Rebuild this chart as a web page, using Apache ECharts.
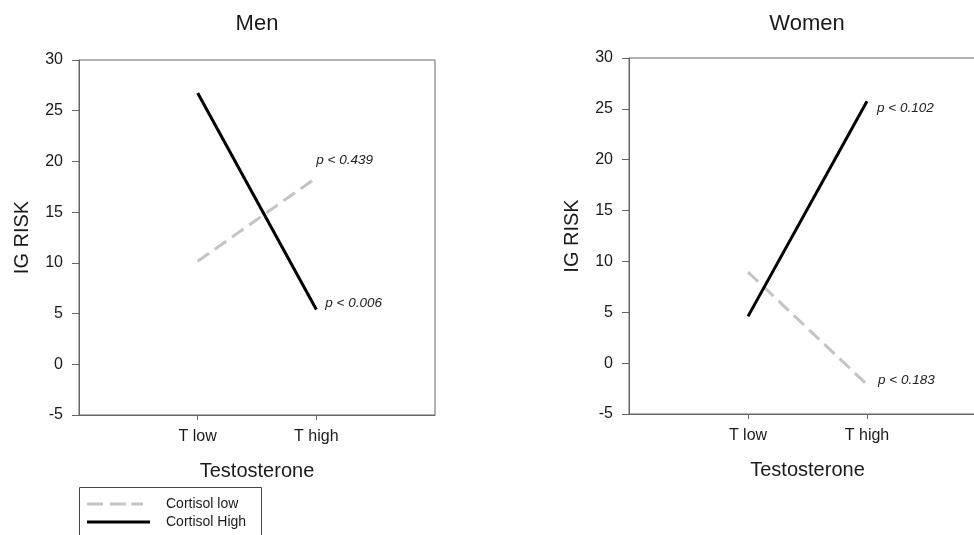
<!DOCTYPE html>
<html>
<head>
<meta charset="utf-8">
<script src="https://cdn.jsdelivr.net/npm/echarts@6/dist/echarts.min.js"></script>
<style>
html,body{margin:0;padding:0;background:#fff;}
#chart{width:974px;height:535px;}
</style>
</head>
<body>
<div id="chart"></div>
<script>
// ---- data ----
var panelTitles = ['Men', 'Women'];
var xCategories = ['', 'T low', 'T high', ''];
var seriesNames = ['Cortisol low', 'Cortisol High'];
var menCortisolLow = [['T low', 10.15], ['T high', 18.4]];
var menCortisolHigh = [['T low', 26.75], ['T high', 5.4]];
var womenCortisolLow = [['T low', 8.95], ['T high', -2.1]];
var womenCortisolHigh = [['T low', 4.6], ['T high', 25.75]];
var pLabels = { menLow: 'p < 0.439', menHigh: 'p < 0.006', womenLow: 'p < 0.183', womenHigh: 'p < 0.102' };
var yMin = -5, yMax = 30, yStep = 5;
var xAxisTitle = 'Testosterone';
var yAxisTitle = 'IG RISK';

// ---- chart ----
var FONT = 'Liberation Sans, Arial, Helvetica, sans-serif';
var AXIS_COLOR = '#666';
var TEXT_COLOR = '#1a1a1a';
var GRAY = '#c4c4c4';

var grids = [
  { left: 79, top: 60, width: 356, height: 355 },
  { left: 629, top: 58, width: 357, height: 356 }
];

function xAxisFor(i) {
  return {
    type: 'category', gridIndex: i, data: xCategories, boundaryGap: false,
    name: xAxisTitle, nameLocation: 'middle', nameGap: 46,
    nameTextStyle: { fontFamily: FONT, fontSize: 20, color: TEXT_COLOR },
    axisLine: { onZero: false, lineStyle: { color: AXIS_COLOR, width: 1 } },
    axisTick: { show: true, length: 5, alignWithLabel: true,
      interval: function (idx) { return idx === 1 || idx === 2; },
      lineStyle: { color: AXIS_COLOR } },
    axisLabel: { margin: 14, fontFamily: FONT, fontSize: 16, color: TEXT_COLOR,
      interval: function (idx) { return idx === 1 || idx === 2; } },
    splitLine: { show: false }
  };
}
function yAxisFor(i) {
  return {
    type: 'value', gridIndex: i, min: yMin, max: yMax, interval: yStep,
    name: yAxisTitle, nameLocation: 'middle', nameGap: 47,
    nameTextStyle: { fontFamily: FONT, fontSize: 20, color: TEXT_COLOR },
    axisLine: { show: true, onZero: false, lineStyle: { color: AXIS_COLOR, width: 1 } },
    axisTick: { show: true, length: 7, lineStyle: { color: AXIS_COLOR } },
    axisLabel: { margin: 16, fontFamily: FONT, fontSize: 16, color: TEXT_COLOR },
    splitLine: { show: false }
  };
}
function lineSeries(name, idx, data, dashed, label, off) {
  return {
    type: 'line', name: name, xAxisIndex: idx, yAxisIndex: idx, data: data,
    symbol: 'none', silent: true, animation: false,
    lineStyle: dashed ? { color: GRAY, width: 3, type: [14, 7] } : { color: '#000', width: 3 },
    itemStyle: { color: dashed ? GRAY : '#000' },
    endLabel: { show: true, formatter: function () { return label; }, offset: off,
      fontFamily: FONT, fontSize: 13.5, fontStyle: 'italic', color: '#222' }
  };
}

var DASH_ICON = 'path://M0,0h16v3h-16z M22.7,0h16v3h-16z M44.4,0h11.6v3h-11.6z M63,0h0.01v3h-0.01z';
var SOLID_ICON = 'path://M0,0h63v3h-63z';

var option = {
  backgroundColor: '#fff',
  animation: false,
  title: [
    { text: panelTitles[0], left: 252, top: 8, textAlign: 'center',
      textStyle: { fontFamily: FONT, fontSize: 22, fontWeight: 'normal', color: TEXT_COLOR } },
    { text: panelTitles[1], left: 802, top: 8, textAlign: 'center',
      textStyle: { fontFamily: FONT, fontSize: 22, fontWeight: 'normal', color: TEXT_COLOR } }
  ],
  grid: grids.map(function (g) {
    return Object.assign({ show: true, borderColor: AXIS_COLOR, borderWidth: 1,
      backgroundColor: 'transparent', outerBoundsMode: 'none', containLabel: false }, g);
  }),
  xAxis: [xAxisFor(0), xAxisFor(1)],
  yAxis: [yAxisFor(0), yAxisFor(1)],
  graphic: [
    { type: 'rect', left: 79, top: 487, shape: { width: 182, height: 60 }, silent: true,
      style: { fill: 'transparent', stroke: '#444', lineWidth: 1 } }
  ],
  legend: {
    orient: 'vertical', left: 87, top: 497,
    padding: 0, itemGap: 4, itemWidth: 63, itemHeight: 3,
    selectedMode: false,
    textStyle: { fontFamily: FONT, fontSize: 14, color: TEXT_COLOR, padding: [0, 0, 0, 11] },
    data: [
      { name: seriesNames[0], icon: DASH_ICON, itemStyle: { color: GRAY, borderWidth: 0 } },
      { name: seriesNames[1], icon: SOLID_ICON, itemStyle: { color: '#000', borderWidth: 0 } }
    ]
  },
  series: [
    lineSeries(seriesNames[0], 0, menCortisolLow, true, pLabels.menLow, [-8, -17]),
    lineSeries(seriesNames[1], 0, menCortisolHigh, false, pLabels.menHigh, [1, -6]),
    lineSeries(seriesNames[0], 1, womenCortisolLow, true, pLabels.womenLow, [3, -4]),
    lineSeries(seriesNames[1], 1, womenCortisolHigh, false, pLabels.womenHigh, [2, 7])
  ]
};

var chart = echarts.init(document.getElementById('chart'), null, { renderer: 'canvas' });
chart.setOption(option);
</script>
</body>
</html>
